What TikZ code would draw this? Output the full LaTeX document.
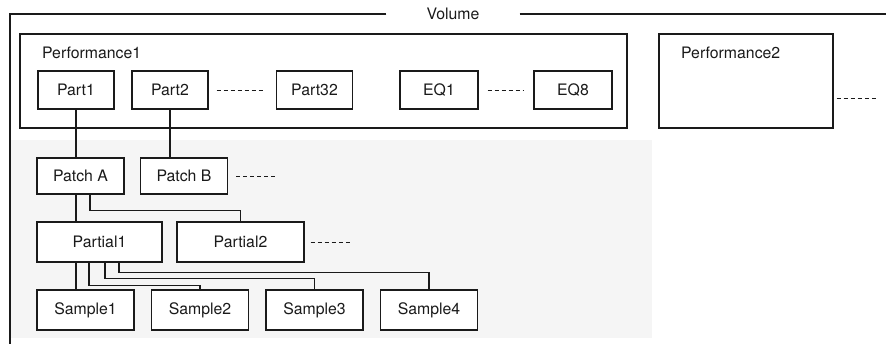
\documentclass[tikz,border=0pt]{standalone}
\usepackage{fontspec}
\setmainfont{TeX Gyre Heros}
\usepackage{xcolor}
\usepackage{tikz}
\usetikzlibrary{calc,positioning}
\definecolor{inkcol}{HTML}{1A1A1A}
\definecolor{stipcol}{HTML}{F5F5F5}
\tikzset{
  framel/.style  = {draw=inkcol, line width=1.3pt},
  perfbox/.style = {draw=inkcol, line width=1.1pt, minimum height=2.82cm},
  partbox/.style = {draw=inkcol, line width=0.9pt, fill=white,
                    minimum width=2.28cm, minimum height=1.14cm, inner sep=0pt},
  lowbox/.style  = {draw=inkcol, line width=1.4pt, fill=white,
                    minimum height=1.2cm, inner sep=0pt},
  link/.style    = {draw=inkcol, line width=1pt},
  dots/.style    = {draw=inkcol, line width=0.8pt, dash pattern=on 3.4pt off 2.6pt},
  lbl/.style     = {font=\fontsize{13.5}{16}\selectfont, text=inkcol},
}

\begin{document}
\begin{tikzpicture}[x=0.03cm, y=-0.03cm, every node/.append style={lbl}]
    \useasboundingbox (0,0) rectangle (886,344);
    \fill[stipcol] (11,140) rectangle (652,338);

    % ---------------- volume frame
    \node[inner sep=0pt, inner xsep=1.2cm] (vol) at (453,14) {Volume};
    \draw[framel] (vol.west) -- (10,14) -- (10,344);
    \draw[framel] (vol.east) -- (886,14);

    % ---------------- performances
    \node[perfbox, minimum width=18.21cm] (perf1) at (323.5,81) {};
    \node[anchor=west] at (38,53) {Performance1};
    \node[perfbox, minimum width=5.22cm] (perf2) at (746,81) {};
    \node[anchor=west] at (677,53) {Performance2};
    \draw[dots] ($(perf2.east)+(3,17)$) -- ++(42,0);

    \node[partbox] (p1)  at (76,90)    {Part1};
    \node[partbox] (p2)  at (170,90)   {Part2};
    \node[partbox] (p32) at (314.5,90) {Part32};
    \node[partbox, minimum width=2.34cm] (eq1) at (439,90) {EQ1};
    \node[partbox, minimum width=2.34cm] (eq8) at (573,90) {EQ8};
    \draw[dots] ($(p2.east)+(8,0)$) -- ($(p32.west)+(-12,0)$);
    \draw[dots] ($(eq1.east)+(9,0)$) -- ($(eq8.west)+(-9,0)$);

    % ---------------- patches
    \node[lowbox, minimum width=2.61cm, minimum height=1.08cm] (pa) at (80.5,176) {Patch A};
    \node[lowbox, minimum width=2.61cm, minimum height=1.08cm] (pb) at (184,176)  {Patch B};
    \draw[dots] ($(pb.east)+(8,0)$) -- ++(41,0);
    \draw[link] (p1.south) -- (p1.south |- pa.north);
    \draw[link] (p2.south) -- (p2.south |- pb.north);

    % ---------------- partials
    \node[lowbox, minimum width=3.75cm] (pt1) at (99.5,242)  {Partial1};
    \node[lowbox, minimum width=3.8cm]  (pt2) at (240.5,242) {Partial2};
    \draw[dots] ($(pt2.east)+(6,0)$) -- ++(40,0);
    \draw[link] (p1.south |- pa.south) -- (p1.south |- pt1.north);
    \draw[link] ($(pa.south)+(9.5,0)$) -- ++(0,16) -| (pt2.north);

    % ---------------- samples
    \node[lowbox, minimum width=2.91cm] (s1) at (85.5,310) {Sample1};
    \node[lowbox, minimum width=2.91cm] (s2) at (200,310)  {Sample2};
    \node[lowbox, minimum width=2.91cm] (s3) at (314.5,310) {Sample3};
    \node[lowbox, minimum width=2.91cm] (s4) at (429,310)  {Sample4};
    \draw[link] (p1.south |- pt1.south) -- (p1.south |- s1.north);
    \foreach \dx/\dy/\s in {-10.5/23/s2, 5.5/16/s3, 19.5/10/s4}
      {\draw[link] ($(pt1.south)+(\dx,0)$) -- ++(0,\dy) -| (\s.north);}
  \end{tikzpicture}
\end{document}
